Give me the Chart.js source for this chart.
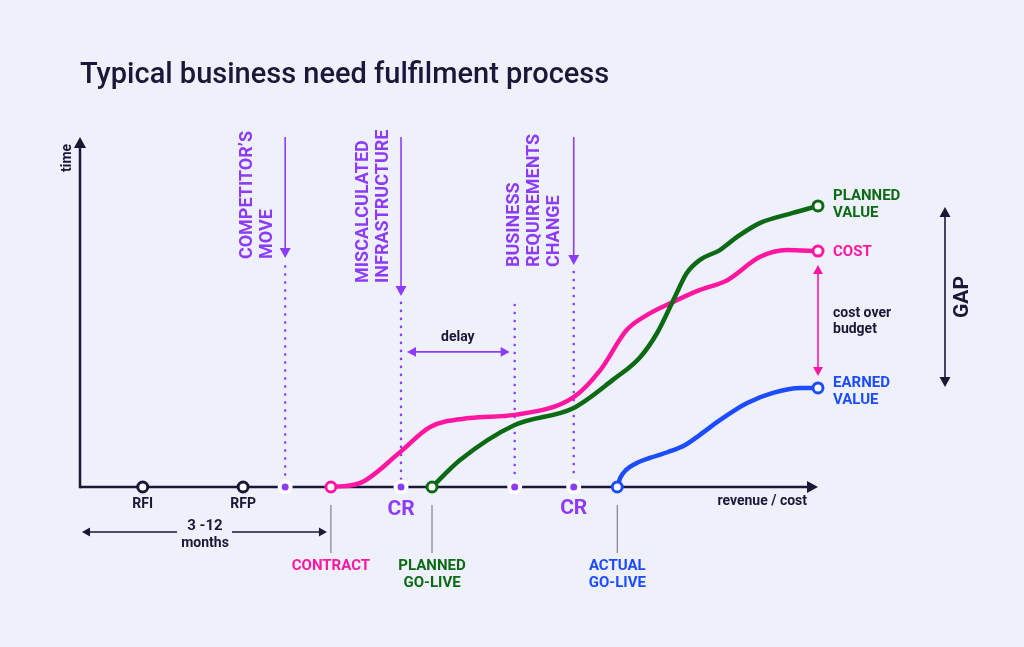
<!DOCTYPE html>
<html lang="en">
<head>
<meta charset="UTF-8">
<title>Typical business need fulfilment process</title>
<script src="https://cdn.jsdelivr.net/npm/chart.js"></script>
<style>
  body { margin: 0; background: #eef0fc; }
  canvas { display: block; }
</style>
</head>
<body>
<canvas id="chart" width="1024" height="647"></canvas>
<script>
  // timeline units 0..100 on both axes (x = revenue / cost, y = time)
  const milestoneLabels = ["RFI", "RFP"];
  const milestoneX = [8.5, 22.1];

  // purple events: competitor's move, CR, end of delay, CR
  const eventX = [27.8, 43.5, 58.9, 66.9];
  const eventTop = [63, 52.6, 52, 61.4];
  const eventArrowTip = [65.4, 54.6, null, 63.4];

  const costX = [34.0, 37.9, 43.4, 47.4, 52.8, 58.9, 66.9, 70.5, 74.1, 76.8, 80.4, 84.0, 87.7, 92.1, 95.8, 100];
  const costY = [0, 1.1, 10.0, 17.1, 19.7, 20.6, 25.7, 33.4, 44.9, 49.1, 52.9, 56.3, 59.1, 65.7, 67.7, 67.4];

  const plannedX = [47.7, 51.5, 58.9, 66.9, 72.2, 75.9, 78.2, 80.6, 82.2, 84.0, 86.7, 89.0, 92.1, 96.6, 100];
  const plannedY = [0, 7.7, 17.7, 22.6, 30.6, 37.1, 44.0, 54.3, 61.1, 64.9, 67.7, 71.4, 75.4, 78.3, 80.3];

  const earnedX = [72.8, 73.2, 74.0, 75.2, 77.2, 79.7, 82.0, 84.0, 86.7, 90.4, 93.9, 97.6, 100];
  const earnedY = [0, 2.6, 4.9, 6.6, 8.3, 10.0, 12.0, 14.9, 19.1, 24.0, 26.9, 28.3, 28.3];

  const C = {
    bg: "#eef0fc",
    dark: "#1b1736",
    purple: "#8c3cf8",
    pink: "#ff17a2",
    green: "#0d6a14",
    blue: "#1d4cff",
    grey: "#6b6b7a"
  };

  const pts = (xs, ys) => xs.map((x, i) => ({ x: x, y: ys[i] }));
  const ends = (n, r) => (ctx) => (ctx.dataIndex === 0 || ctx.dataIndex === n - 1) ? r : 0;

  function curve(label, xs, ys, color) {
    return {
      label: label,
      data: pts(xs, ys),
      borderColor: color,
      borderWidth: 4.5,
      cubicInterpolationMode: "monotone",
      pointRadius: ends(xs.length, 5),
      pointBackgroundColor: "#ffffff",
      pointBorderColor: color,
      pointBorderWidth: 3,
      clip: false
    };
  }

  function text(ctx, s, x, y, font, color, align) {
    ctx.save();
    ctx.font = font;
    ctx.fillStyle = color;
    ctx.textAlign = align || "center";
    ctx.textBaseline = "middle";
    ctx.fillText(s, x, y);
    ctx.restore();
  }

  function vtext(ctx, s, x, y, font, color, align) {
    ctx.save();
    ctx.translate(x, y);
    ctx.rotate(-Math.PI / 2);
    text(ctx, s, 0, 0, font, color, align);
    ctx.restore();
  }

  function head(ctx, x, y, dx, dy, size, color) {
    const len = Math.hypot(dx, dy), ux = dx / len, uy = dy / len;
    ctx.save();
    ctx.fillStyle = color;
    ctx.beginPath();
    ctx.moveTo(x, y);
    ctx.lineTo(x - ux * size - uy * size * 0.55, y - uy * size + ux * size * 0.55);
    ctx.lineTo(x - ux * size + uy * size * 0.55, y - uy * size - ux * size * 0.55);
    ctx.closePath();
    ctx.fill();
    ctx.restore();
  }

  function line(ctx, x1, y1, x2, y2, color, w, dash) {
    ctx.save();
    ctx.strokeStyle = color;
    ctx.lineWidth = w;
    if (dash) { ctx.setLineDash(dash); ctx.lineCap = "round"; }
    ctx.beginPath();
    ctx.moveTo(x1, y1);
    ctx.lineTo(x2, y2);
    ctx.stroke();
    ctx.restore();
  }

  function arrow(ctx, x1, y1, x2, y2, color, w, size, both) {
    const dx = x2 - x1, dy = y2 - y1, len = Math.hypot(dx, dy);
    const ux = dx / len, uy = dy / len;
    line(ctx, both ? x1 + ux * size * 0.8 : x1, both ? y1 + uy * size * 0.8 : y1,
         x2 - ux * size * 0.8, y2 - uy * size * 0.8, color, w);
    head(ctx, x2, y2, dx, dy, size, color);
    if (both) head(ctx, x1, y1, -dx, -dy, size, color);
  }

  const diagram = {
    id: "diagram",
    beforeDraw(chart) {
      const ctx = chart.ctx;
      ctx.save();
      ctx.fillStyle = C.bg;
      ctx.fillRect(0, 0, chart.width, chart.height);
      ctx.restore();
    },
    beforeDatasetsDraw(chart) {
      const ctx = chart.ctx, xs = chart.scales.x, ys = chart.scales.y;
      const X = (v) => xs.getPixelForValue(v), Y = (v) => ys.getPixelForValue(v);
      const x0 = X(0), x1 = X(100), y0 = Y(0), y1 = Y(100);

      // title
      ctx.save();
      ctx.font = "500 29px Roboto";
      ctx.fillStyle = C.dark;
      ctx.textBaseline = "alphabetic";
      ctx.fillText("Typical business need fulfilment process", 80, 83, 532);
      ctx.restore();

      // axes
      line(ctx, x0, y0, x1 - 8, y0, C.dark, 2.5);
      line(ctx, x0, y0 + 1.25, x0, y1 + 8, C.dark, 2.5);
      head(ctx, x1, y0, 1, 0, 11, C.dark);
      head(ctx, x0, y1, 0, -1, 11, C.dark);
      vtext(ctx, "time", x0 - 13, 158, "bold 14px Roboto", C.dark, "center");
      text(ctx, "revenue / cost", x1 - 11, y0 + 14, "bold 14px Roboto", C.dark, "right");

      // purple events: dotted guides and arrows
      eventX.forEach((v, i) => {
        line(ctx, X(v), Y(eventTop[i]), X(v), y0 - 8, C.purple, 2.6, [0, 8]);
        if (eventArrowTip[i] !== null) arrow(ctx, X(v), y1, X(v), Y(eventArrowTip[i]), C.purple, 1.6, 10);
      });
      const bf = "bold 18px Roboto";
      const eb = [Y(eventArrowTip[0]) + 1, Y(eventArrowTip[1]) - 13, Y(eventArrowTip[3]) + 2];
      vtext(ctx, "COMPETITOR\u2019S", X(eventX[0]) - 38, eb[0], bf, C.purple, "left");
      vtext(ctx, "MOVE", X(eventX[0]) - 18, eb[0], bf, C.purple, "left");
      vtext(ctx, "MISCALCULATED", X(eventX[1]) - 38, eb[1], bf, C.purple, "left");
      vtext(ctx, "INFRASTRUCTURE", X(eventX[1]) - 18, eb[1], bf, C.purple, "left");
      vtext(ctx, "BUSINESS", X(eventX[3]) - 59, eb[2], bf, C.purple, "left");
      vtext(ctx, "REQUIREMENTS", X(eventX[3]) - 39, eb[2], bf, C.purple, "left");
      vtext(ctx, "CHANGE", X(eventX[3]) - 19, eb[2], bf, C.purple, "left");

      // delay
      const dyy = Y(38.6);
      arrow(ctx, X(eventX[1]) + 6, dyy, X(eventX[2]) - 5, dyy, C.purple, 1.6, 9, true);
      text(ctx, "delay", (X(eventX[1]) + X(eventX[2])) / 2, dyy - 14, "bold 14px Roboto", C.dark);

      // CR labels
      text(ctx, "CR", X(eventX[1]), y0 + 23, "bold 21px Roboto", C.purple);
      text(ctx, "CR", X(eventX[3]), y0 + 22, "bold 21px Roboto", C.purple);

      // milestone labels
      milestoneX.forEach((v, i) => text(ctx, milestoneLabels[i], X(v), y0 + 17, "bold 14px Roboto", C.dark));

      // go-live / contract ticks and labels
      const lf = "bold 15px Roboto";
      [costX[0], plannedX[0], earnedX[0]].forEach((v) => line(ctx, X(v), y0 + 18, X(v), y0 + 66, C.grey, 1));
      text(ctx, "CONTRACT", X(costX[0]), y0 + 79, lf, C.pink);
      text(ctx, "PLANNED", X(plannedX[0]), y0 + 79, lf, C.green);
      text(ctx, "GO-LIVE", X(plannedX[0]), y0 + 96, lf, C.green);
      text(ctx, "ACTUAL", X(earnedX[0]), y0 + 79, lf, C.blue);
      text(ctx, "GO-LIVE", X(earnedX[0]), y0 + 96, lf, C.blue);

      // 3 -12 months span
      const my = y0 + 45;
      arrow(ctx, 177, my, 82, my, C.dark, 1.6, 8);
      arrow(ctx, 232, my, X(costX[0]) - 4, my, C.dark, 1.6, 8);
      text(ctx, "3 -12", 205, y0 + 39, "bold 15px Roboto", C.dark);
      text(ctx, "months", 205, y0 + 56, "bold 14px Roboto", C.dark);

      // right-hand labels
      const rx = x1 + 15;
      const pv = Y(plannedY[plannedY.length - 1]);
      const cv = Y(costY[costY.length - 1]);
      const ev = Y(earnedY[earnedY.length - 1]);
      text(ctx, "PLANNED", rx, pv - 10, lf, C.green, "left");
      text(ctx, "VALUE", rx, pv + 7, lf, C.green, "left");
      text(ctx, "COST", rx, cv + 1, lf, C.pink, "left");
      text(ctx, "EARNED", rx, ev - 5, lf, C.blue, "left");
      text(ctx, "VALUE", rx, ev + 12, lf, C.blue, "left");
      arrow(ctx, x1, cv + 14, x1, ev - 12, C.pink, 1.6, 9, true);
      text(ctx, "cost over", rx, 313, "bold 14px Roboto", C.dark, "left");
      text(ctx, "budget", rx, 329, "bold 14px Roboto", C.dark, "left");

      // gap
      arrow(ctx, 945, pv + 1, 945, ev - 1, C.dark, 1.6, 10, true);
      vtext(ctx, "GAP", 963, 297, "bold 21px Roboto", C.dark, "center");
    }
  };

  new Chart(document.getElementById("chart"), {
    type: "line",
    data: {
      datasets: [
        {
          label: "events",
          type: "scatter",
          data: eventX.map((x) => ({ x: x, y: 0 })),
          pointRadius: 5.5,
          pointBackgroundColor: C.purple,
          pointBorderColor: "#ffffff",
          pointBorderWidth: 4,
          clip: false
        },
        {
          label: "milestones",
          type: "scatter",
          data: milestoneX.map((x) => ({ x: x, y: 0 })),
          pointRadius: 5,
          pointBackgroundColor: "#ffffff",
          pointBorderColor: C.dark,
          pointBorderWidth: 3,
          clip: false
        },
        curve("Planned value", plannedX, plannedY, C.green),
        curve("Cost", costX, costY, C.pink),
        curve("Earned value", earnedX, earnedY, C.blue)
      ]
    },
    options: {
      responsive: false,
      animation: false,
      layout: { autoPadding: false, padding: { left: 80, right: 206, top: 137, bottom: 160 } },
      scales: {
        x: { type: "linear", min: 0, max: 100, display: false },
        y: { min: 0, max: 100, display: false }
      },
      plugins: { legend: { display: false }, tooltip: { enabled: false } }
    },
    plugins: [diagram]
  });
</script>
</body>
</html>
